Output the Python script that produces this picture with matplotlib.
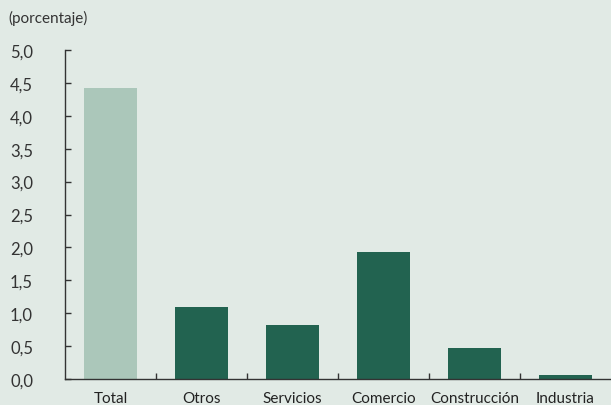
import matplotlib
matplotlib.use("Agg")
import matplotlib.pyplot as plt
import numpy as np

categories = ["Total", "Otros", "Servicios", "Comercio", "Construcción", "Industria"]
values = [4.42, 1.09, 0.82, 1.93, 0.47, 0.06]
yticks = [0.0, 0.5, 1.0, 1.5, 2.0, 2.5, 3.0, 3.5, 4.0, 4.5, 5.0]
ytick_labels = [f"{v:.1f}".replace(".", ",") for v in yticks]

bg = "#E1EAE5"
colors = ["#ABC7BA"] + ["#226350"] * (len(categories) - 1)

plt.rcParams['font.family'] = ['Lato', 'DejaVu Sans']

fig = plt.figure(figsize=(6.11, 4.06), dpi=100, facecolor=bg)
ax = fig.add_axes([65/611, 1 - 380/406, 1 - 65/611, (380 - 51)/406])
ax.set_facecolor(bg)

x = np.arange(len(categories))
ax.bar(x, values, width=0.58, color=colors)

ax.set_xlim(-0.5, len(categories) - 0.5)
ax.set_ylim(0, 5.0)
ax.set_yticks(yticks)
ax.set_yticklabels(ytick_labels, fontsize=12, color="#333333")
ax.set_xticks(x)
ax.set_xticklabels(categories, fontsize=11, color="#222222")
ax.set_xticks(np.arange(len(categories) - 1) + 0.5, minor=True)

ax.tick_params(axis="y", direction="in", length=4, width=1, color="#333333", pad=23)
ax.tick_params(axis="x", which="major", length=0, pad=9)
ax.tick_params(axis="x", which="minor", direction="in", length=4, width=1, color="#333333")

for s in ["top", "right"]:
    ax.spines[s].set_visible(False)
for s in ["left", "bottom"]:
    ax.spines[s].set_color("#333333")
    ax.spines[s].set_linewidth(1)

fig.text(8/611, 1 - 18/406, "(porcentaje)", fontsize=11, color="#333333", va="center", ha="left")

fig.savefig("out.png", dpi=100, facecolor=bg)
